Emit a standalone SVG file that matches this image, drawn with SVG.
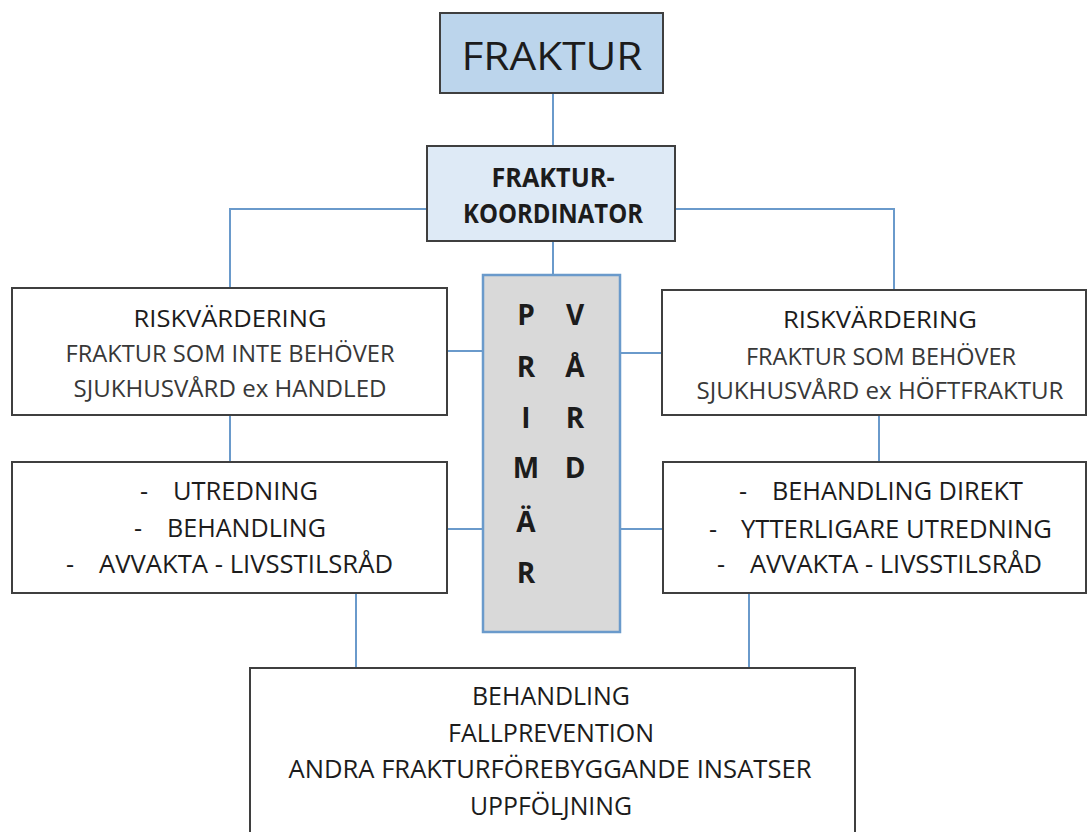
<svg xmlns="http://www.w3.org/2000/svg" width="1089" height="832" viewBox="0 0 1089 832">
<style>
  .box{fill:#ffffff;stroke:#3f3f3f;stroke-width:2}
  .conn{fill:none;stroke:#6a9acb;stroke-width:2}
  .t{font-family:"Open Sans",Lato,"Liberation Sans",sans-serif;fill:#1c1c1c}
  .c{text-anchor:middle}
  .sub{fill:#383838}
  .b{font-weight:bold}
</style>
<rect width="1089" height="832" fill="#ffffff"/>
<g id="connectors">
  <path class="conn" d="M553,93 V146"/>
  <path class="conn" d="M427,209 H230 V288"/>
  <path class="conn" d="M675,209 H894 V290"/>
  <path class="conn" d="M553,241 V275"/>
  <path class="conn" d="M230,415 V462"/>
  <path class="conn" d="M879,415 V462"/>
  <path class="conn" d="M447,351 H483"/>
  <path class="conn" d="M620,353 H662"/>
  <path class="conn" d="M447,529 H483"/>
  <path class="conn" d="M620,529 H663"/>
  <path class="conn" d="M356,593 V668"/>
  <path class="conn" d="M749,593 V668"/>
</g>
<g id="fraktur">
  <rect x="440" y="13" width="223" height="80" fill="#bcd5ec" stroke="#3f3f3f" stroke-width="2"/>
  <text class="t c" x="552" y="70" font-size="38" textLength="181" lengthAdjust="spacingAndGlyphs">FRAKTUR</text>
</g>
<g id="koordinator">
  <rect x="427" y="146" width="248" height="95" fill="#deeaf6" stroke="#3f3f3f" stroke-width="2"/>
  <text class="t c b" x="553" y="187" font-size="27" textLength="123" lengthAdjust="spacingAndGlyphs">FRAKTUR-</text>
  <text class="t c b" x="553" y="223" font-size="27" textLength="180" lengthAdjust="spacingAndGlyphs">KOORDINATOR</text>
</g>
<g id="primarvard">
  <rect x="483" y="275" width="137" height="357" fill="#d9d9d9" stroke="#6a9acb" stroke-width="2.5"/>
  <g class="t c b" font-size="28">
    <text x="526" y="325">P</text>
    <text x="526" y="377">R</text>
    <text x="526" y="428">I</text>
    <text x="526" y="478">M</text>
    <text x="526" y="532">Ä</text>
    <text x="526" y="583">R</text>
    <text x="575" y="325">V</text>
    <text x="575" y="377">Å</text>
    <text x="575" y="428">R</text>
    <text x="575" y="478">D</text>
  </g>
</g>
<g id="risk-left">
  <rect class="box" x="12" y="288" width="435" height="127"/>
  <text class="t c" x="230" y="327" font-size="24" textLength="193" lengthAdjust="spacingAndGlyphs">RISKVÄRDERING</text>
  <text class="t c sub" x="230" y="362" font-size="24" textLength="329" lengthAdjust="spacingAndGlyphs">FRAKTUR SOM INTE BEHÖVER</text>
  <text class="t c sub" x="230" y="397" font-size="24" textLength="313" lengthAdjust="spacingAndGlyphs">SJUKHUSVÅRD  ex HANDLED</text>
</g>
<g id="risk-right">
  <rect class="box" x="662" y="290" width="424" height="125"/>
  <text class="t c" x="880" y="328" font-size="24" textLength="194" lengthAdjust="spacingAndGlyphs">RISKVÄRDERING</text>
  <text class="t c sub" x="881" y="365" font-size="24" textLength="270" lengthAdjust="spacingAndGlyphs">FRAKTUR SOM BEHÖVER</text>
  <text class="t c sub" x="880" y="399" font-size="24" textLength="367" lengthAdjust="spacingAndGlyphs">SJUKHUSVÅRD  ex HÖFTFRAKTUR</text>
</g>
<g id="actions-left">
  <rect class="box" x="12" y="462" width="435" height="131"/>
  <g class="t" font-size="25">
    <text x="140" y="500">-</text>
    <text x="173" y="500" textLength="145" lengthAdjust="spacingAndGlyphs">UTREDNING</text>
    <text x="134" y="537">-</text>
    <text x="167" y="537" textLength="159" lengthAdjust="spacingAndGlyphs">BEHANDLING</text>
    <text x="66" y="573">-</text>
    <text x="99" y="573" textLength="294" lengthAdjust="spacingAndGlyphs">AVVAKTA - LIVSSTILSRÅD</text>
  </g>
</g>
<g id="actions-right">
  <rect class="box" x="663" y="462" width="423" height="131"/>
  <g class="t" font-size="25">
    <text x="739" y="500">-</text>
    <text x="772" y="500" textLength="251" lengthAdjust="spacingAndGlyphs">BEHANDLING DIREKT</text>
    <text x="709" y="538">-</text>
    <text x="741" y="538" textLength="311" lengthAdjust="spacingAndGlyphs">YTTERLIGARE UTREDNING</text>
    <text x="717" y="573">-</text>
    <text x="750" y="573" textLength="292" lengthAdjust="spacingAndGlyphs">AVVAKTA - LIVSSTILSRÅD</text>
  </g>
</g>
<g id="followup">
  <rect class="box" x="250" y="668" width="605" height="180"/>
  <text class="t c" x="551" y="705" font-size="25" textLength="158" lengthAdjust="spacingAndGlyphs">BEHANDLING</text>
  <text class="t c" x="551" y="742" font-size="25" textLength="206" lengthAdjust="spacingAndGlyphs">FALLPREVENTION</text>
  <text class="t c" x="550" y="778" font-size="25" textLength="523" lengthAdjust="spacingAndGlyphs">ANDRA FRAKTURFÖREBYGGANDE INSATSER</text>
  <text class="t c" x="551" y="815" font-size="25" textLength="162" lengthAdjust="spacingAndGlyphs">UPPFÖLJNING</text>
</g>
</svg>
